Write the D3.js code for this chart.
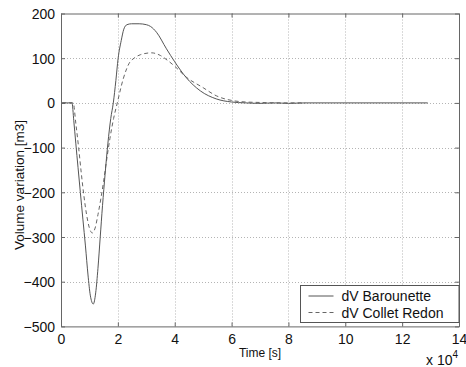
<!DOCTYPE html>
<html>
<head>
<meta charset="utf-8">
<script src="https://cdn.jsdelivr.net/npm/d3@7"></script>
<style>
	body { margin: 0; background: #fff; }
	svg { display: block; font-family: "Liberation Sans", Arial, sans-serif; }
</style>
</head>
<body>
<div id="chart"></div>
<script>
'use strict';

// time is in units of 10^4 s, like the axis
const baro_time = [0.04, 0.386, 0.45, 0.52, 0.60, 0.68, 0.77, 0.86, 0.95, 1.03, 1.135, 1.22, 1.30, 1.38, 1.46, 1.55, 1.65, 1.75, 1.84, 1.93, 2.01, 2.12, 2.21, 2.32, 2.48, 2.75, 3.0, 3.15, 3.36, 3.71, 4.0, 4.4, 4.9, 5.46, 6.0, 6.5, 7.0, 7.5, 8.0, 8.6, 12.9];
const baro_dv   = [0, 0, -40, -90, -145, -200, -260, -320, -385, -430, -450, -425, -370, -300, -230, -160, -90, -35, 0, 50, 100, 140, 165, 175, 177, 177, 175, 171, 158, 121, 92, 57, 27, 9, 2, 0, -1, 0, -1, 0, 0];

const redon_time = [0.04, 0.43, 0.52, 0.62, 0.71, 0.80, 0.90, 1.0, 1.10, 1.20, 1.30, 1.40, 1.50, 1.60, 1.72, 1.85, 1.98, 2.19, 2.42, 2.57, 2.8, 3.18, 3.5, 3.75, 4.0, 4.4, 5.0, 5.46, 6.05, 6.5, 7.0, 7.5, 8.0, 8.6];
const redon_dv   = [0, 0, -45, -100, -155, -205, -250, -280, -291, -280, -250, -215, -175, -130, -80, -35, 0, 54, 91, 100, 108, 112, 106, 95, 82, 58, 34, 16, 5, 2, 1, 0, 0, 0];

const x_ticks = [0, 2, 4, 6, 8, 10, 12, 14];
const y_ticks = [-500, -400, -300, -200, -100, 0, 100, 200];
const legend_names = ["dV Barounette", "dV Collet Redon"];

function zip(t, v)
{
	return t.map((d, i) => ({t: d, v: v[i]}));
}

window.onload = function()
{
	const width = 466, height = 367;
	const margin = { top: 13.5, right: 7, bottom: 40.6, left: 61 };

	const x = d3.scaleLinear()
		.domain([0, 14])
		.range([margin.left, width - margin.right]);

	const y = d3.scaleLinear()
		.domain([-500, 200])
		.range([height - margin.bottom, margin.top]);

	const svg = d3.select("#chart")
		.append("svg")
			.attr("width", width)
			.attr("height", height);

	// dotted grid
	const grid = svg.append("g").attr("class", "grid")
		.attr("stroke", "#b4b4b4")
		.attr("stroke-width", 1)
		.attr("stroke-dasharray", "1,2");
	grid.selectAll(".gx")
		.data(x_ticks.slice(1, -1))
		.join("line")
			.attr("x1", d => Math.round(x(d)) + 0.5)
			.attr("x2", d => Math.round(x(d)) + 0.5)
			.attr("y1", y(200))
			.attr("y2", y(-500));
	grid.selectAll(".gy")
		.data(y_ticks.slice(1, -1))
		.join("line")
			.attr("y1", d => Math.round(y(d)) + 0.5)
			.attr("y2", d => Math.round(y(d)) + 0.5)
			.attr("x1", x(0))
			.attr("x2", x(14));

	// axes, ticks point inwards like matlab
	const tick_len = 4;
	const xAxis = svg.append("g")
		.attr("transform", `translate(0,${y(-500)})`)
		.call(d3.axisBottom(x).tickValues(x_ticks).tickSizeInner(-tick_len).tickSizeOuter(0).tickPadding(8));
	const xTop = svg.append("g")
		.attr("transform", `translate(0,${y(200)})`)
		.call(d3.axisTop(x).tickValues(x_ticks).tickSizeInner(-tick_len).tickSizeOuter(0).tickFormat(""));
	const yAxis = svg.append("g")
		.attr("transform", `translate(${x(0)},0)`)
		.call(d3.axisLeft(y).tickValues(y_ticks).tickSizeInner(-tick_len).tickSizeOuter(0).tickPadding(6));
	const yRight = svg.append("g")
		.attr("transform", `translate(${x(14)},0)`)
		.call(d3.axisRight(y).tickValues(y_ticks).tickSizeInner(-tick_len).tickSizeOuter(0).tickFormat(""));

	[xAxis, xTop, yAxis, yRight].forEach(g => {
		g.select(".domain").attr("stroke", "#666");
		g.selectAll(".tick line").attr("stroke", "#666");
		g.selectAll(".tick text")
			.attr("fill", "#111")
			.attr("font-size", 14)
			.attr("font-family", "Liberation Sans, Arial, sans-serif");
	});
	yAxis.selectAll(".tick text").attr("dy", "0.36em");

	// curves
	const line = d3.line()
		.x(d => x(d.t))
		.y(d => y(d.v))
		.curve(d3.curveMonotoneX);

	svg.append("path")
		.datum(zip(redon_time, redon_dv))
		.attr("fill", "none")
		.attr("stroke", "#666")
		.attr("stroke-width", 1)
		.attr("stroke-dasharray", "4,3")
		.attr("d", line);

	svg.append("path")
		.datum(zip(baro_time, baro_dv))
		.attr("fill", "none")
		.attr("stroke", "#555")
		.attr("stroke-width", 1)
		.attr("d", line);

	// labels
	svg.append("text")
		.attr("x", (x(0) + x(14)) / 2)
		.attr("y", 356.5)
		.attr("text-anchor", "middle")
		.attr("font-size", 12)
		.attr("fill", "#111")
		.text("Time [s]");

	svg.append("text")
		.attr("transform", "translate(24,185) rotate(-90)")
		.attr("text-anchor", "middle")
		.attr("font-size", 13.5)
		.attr("fill", "#111")
		.text("Volume variation [m3]");

	const expo = svg.append("text")
		.attr("x", 426)
		.attr("y", 365)
		.attr("font-size", 14)
		.attr("fill", "#111");
	expo.append("tspan").text("x 10");
	expo.append("tspan")
		.attr("font-size", 10)
		.attr("dy", -7)
		.text("4");

	// legend box
	const legend = svg.append("g").attr("transform", "translate(300.5,285.5)");
	legend.append("rect")
		.attr("width", 158.5)
		.attr("height", 37)
		.attr("fill", "#fff")
		.attr("stroke", "#555");

	const rows = legend.selectAll(".row")
		.data(legend_names)
		.join("g")
			.attr("transform", (d, i) => `translate(0,${10.5 + i * 16.5})`);
	rows.append("line")
		.attr("x1", 8)
		.attr("x2", 33)
		.attr("stroke", (d, i) => i ? "#666" : "#555")
		.attr("stroke-dasharray", (d, i) => i ? "4,3" : null);
	rows.append("text")
		.attr("x", 41)
		.attr("y", 5)
		.attr("font-size", 14)
		.attr("fill", "#111")
		.text(d => d);
}
</script>
</body>
</html>
